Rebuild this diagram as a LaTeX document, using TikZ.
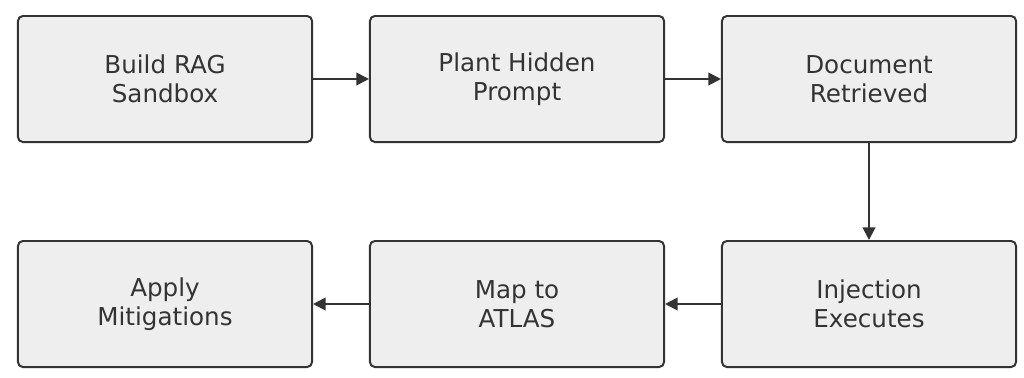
\documentclass[tikz,border=0pt]{standalone}
\usepackage{fontspec}
\setmainfont{DejaVu Sans}
\usepackage{tikz}
\usetikzlibrary{arrows.meta}
\definecolor{flowFill}{RGB}{238,238,238}
\definecolor{flowLine}{RGB}{51,51,51}

\begin{document}
\begin{tikzpicture}[x=0.025cm, y=-0.025cm,
  stepbox/.style={draw=flowLine, fill=flowFill, line width=1.4pt, rounded corners=3.5pt,
    minimum width=7.35cm, minimum height=3.15cm, align=center, text=flowLine,
    font=\fontsize{17.5}{20.5}\selectfont},
  flow/.style={-{Triangle[length=9pt, width=9pt]}, line width=1.4pt, draw=flowLine}]
\useasboundingbox (0,0) rectangle (1024,377);
% top row
\node[stepbox] (build)  at (165,79)  {Build RAG\\Sandbox};
\node[stepbox] (plant)  at (517,79)  {Plant Hidden\\Prompt};
\node[stepbox] (doc)    at (869,79)  {Document\\Retrieved};
% bottom row
\node[stepbox] (inject) at (869,304) {Injection\\Executes};
\node[stepbox] (atlas)  at (517,304) {Map to\\ATLAS};
\node[stepbox] (mitig)  at (165,304) {Apply\\Mitigations};
% connectors
\foreach \a/\b in {build/plant, plant/doc, doc/inject, inject/atlas, atlas/mitig}
  \draw[flow] (\a) -- (\b);
\end{tikzpicture}
\end{document}
